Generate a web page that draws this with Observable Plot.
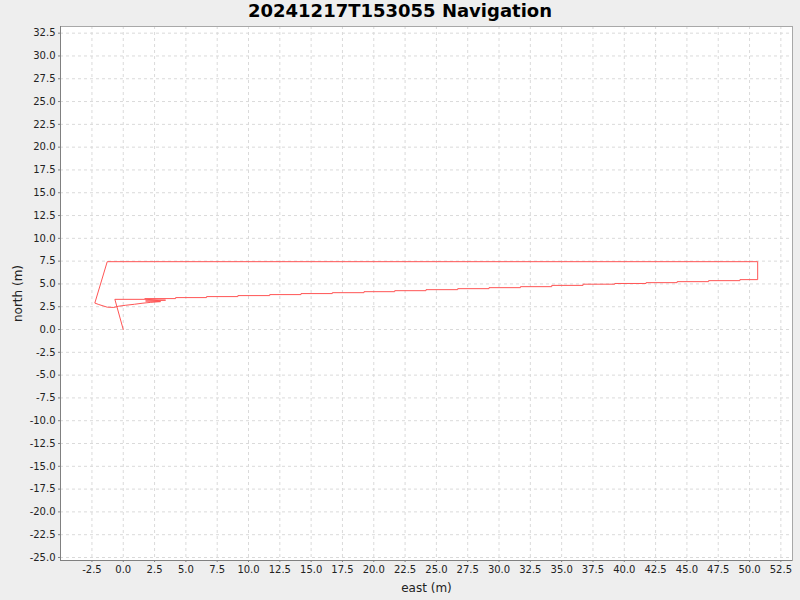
<!DOCTYPE html>
<html>
<head>
<meta charset="utf-8">
<script src="https://cdn.jsdelivr.net/npm/d3@7"></script>
<script src="https://cdn.jsdelivr.net/npm/@observablehq/plot@0.6"></script>
<style>
  html, body { margin: 0; padding: 0; background: #eeeeee; width: 800px; height: 600px; overflow: hidden; }
  #title { height: 24px; line-height: 25px; text-align: center; font: bold 18px "DejaVu Sans", sans-serif; color: #000; }
  #chart svg { display: block; }
</style>
</head>
<body>
<div id="title">20241217T153055 Navigation</div>
<div id="chart"></div>
<script>
// Track points (east, north in metres)
const east = [0, -0.67, 1.73, 3.38, 1.78, 2.98, 2.2, 1.5, 0.9, 0.2, -0.4, -0.75, -1.28, -1.95, -2.27,
  -1.28, 50.65, 50.65,
  49.23, 49.23, 46.73, 46.73, 44.22, 44.22, 41.74, 41.74, 39.24, 39.24, 36.71, 36.71,
  34.21, 34.21, 31.71, 31.71, 29.20, 29.20, 26.70, 26.70, 24.17, 24.17, 21.67, 21.67,
  19.22, 19.22, 16.69, 16.69, 14.19, 14.19, 11.69, 11.69, 9.15, 9.15, 6.65, 6.65, 4.18, 4.18,
  1.73];
const north = [0, 3.31, 3.31, 3.22, 3.13, 3.06, 2.98, 2.88, 2.77, 2.66, 2.55, 2.42, 2.45, 2.74, 2.90,
  7.44, 7.44, 5.47,
  5.47, 5.36, 5.36, 5.25, 5.25, 5.14, 5.14, 5.05, 5.05, 4.97, 4.97, 4.84,
  4.84, 4.70, 4.70, 4.59, 4.59, 4.48, 4.48, 4.37, 4.37, 4.26, 4.26, 4.15,
  4.15, 4.04, 4.04, 3.94, 3.94, 3.83, 3.83, 3.72, 3.72, 3.61, 3.61, 3.50, 3.50, 3.39,
  3.39];

const xTicks = [-2.5, 0, 2.5, 5, 7.5, 10, 12.5, 15, 17.5, 20, 22.5, 25, 27.5, 30, 32.5, 35, 37.5, 40, 42.5, 45, 47.5, 50, 52.5];
const yTicks = [-25, -22.5, -20, -17.5, -15, -12.5, -10, -7.5, -5, -2.5, 0, 2.5, 5, 7.5, 10, 12.5, 15, 17.5, 20, 22.5, 25, 27.5, 30, 32.5];
const xDomain = [-5.01, 53.43];
const yDomain = [-25.33, 33.23];
const xLabel = "east (m)";
const yLabel = "north (m)";

const points = east.map((e, i) => ({east: e, north: north[i]}));
const fmt = d => d.toFixed(1);

const chart = Plot.plot({
  width: 800,
  height: 576,
  marginTop: 2,
  marginBottom: 40,
  marginLeft: 60,
  marginRight: 8,
  style: {background: "#eeeeee", fontFamily: "DejaVu Sans", fontSize: "10px", color: "#404040"},
  x: {domain: xDomain},
  y: {domain: yDomain},
  marks: [
    Plot.frame({fill: "white", stroke: null}),
    Plot.gridX(xTicks, {stroke: "#dadada", strokeOpacity: 1, strokeWidth: 1, strokeDasharray: "3,3"}),
    Plot.gridY(yTicks, {stroke: "#dadada", strokeOpacity: 1, strokeWidth: 1, strokeDasharray: "3,3"}),
    Plot.frame({stroke: "#a8a8a8", strokeWidth: 1}),
    Plot.axisX({ticks: xTicks, tickFormat: fmt, tickSize: 2, tickPadding: 3, stroke: "#808080",
      label: xLabel, labelAnchor: "center", labelArrow: "none", labelOffset: 31, fontSize: 10, fill: "#222"}),
    Plot.axisY({ticks: yTicks, tickFormat: fmt, tickSize: 2, tickPadding: 3, stroke: "#808080",
      label: yLabel, labelAnchor: "center", labelArrow: "none", labelOffset: 47, fontSize: 10, fill: "#222"}),
    Plot.ruleX([xDomain[0]], {stroke: "#808080"}),
    Plot.ruleY([yDomain[0]], {stroke: "#808080"}),
    Plot.line(points, {x: "east", y: "north", stroke: "#ff5555", strokeWidth: 1})
  ]
});
document.getElementById("chart").appendChild(chart);
// axis label font size (12px like the reference)
chart.querySelectorAll("text").forEach(t => {
  if (t.textContent === xLabel || t.textContent === yLabel) t.style.fontSize = "12px";
});
</script>
</body>
</html>
